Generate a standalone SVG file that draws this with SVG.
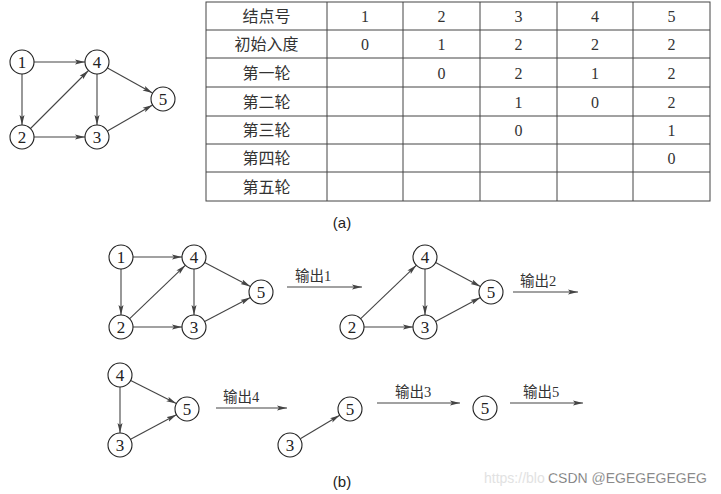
<svg xmlns="http://www.w3.org/2000/svg" width="721" height="494" viewBox="0 0 721 494">
<style>
.n circle{fill:#fff;stroke:#222;stroke-width:1.1}
.n text{font-family:"Liberation Serif",serif;font-size:17px;fill:#222;text-anchor:middle}
.e line{stroke:#444;stroke-width:1.1;marker-end:url(#ah)}
.lbl{font-family:"Liberation Serif","Noto Sans CJK SC",serif;font-size:14.5px;fill:#333}
.tl{stroke:#444;stroke-width:1;fill:none}
.tc{font-family:"Liberation Serif","Noto Sans CJK SC",serif;font-size:16px;fill:#333;text-anchor:middle}
.cap{font-family:"Liberation Sans",sans-serif;font-size:15px;fill:#222;text-anchor:middle}
</style>
<defs>
<marker id="ah" viewBox="0 0 10 6" refX="10" refY="3" markerWidth="10" markerHeight="6" markerUnits="userSpaceOnUse" orient="auto">
<path d="M0,0.5 L10,3 L0,5.5 L2,3 z" fill="#444"/>
</marker>
</defs>
<rect width="721" height="494" fill="#fff"/>

<!-- table -->
<g id="table">
<rect class="tl" x="206" y="2" width="504" height="199" stroke-width="1.4"/>
<g class="tl">
<line x1="327" y1="2" x2="327" y2="201"/>
<line x1="403" y1="2" x2="403" y2="201"/>
<line x1="480" y1="2" x2="480" y2="201"/>
<line x1="557" y1="2" x2="557" y2="201"/>
<line x1="633" y1="2" x2="633" y2="201"/>
<line x1="206" y1="30" x2="710" y2="30"/>
<line x1="206" y1="58" x2="710" y2="58"/>
<line x1="206" y1="87" x2="710" y2="87"/>
<line x1="206" y1="116" x2="710" y2="116"/>
<line x1="206" y1="144" x2="710" y2="144"/>
<line x1="206" y1="172" x2="710" y2="172"/>
</g>
<g class="tc">
<text x="266.5" y="22">结点号</text>
<text x="365" y="22">1</text><text x="441.5" y="22">2</text><text x="518.5" y="22">3</text><text x="595" y="22">4</text><text x="671.5" y="22">5</text>
<text x="266.5" y="50">初始入度</text>
<text x="365" y="50">0</text><text x="441.5" y="50">1</text><text x="518.5" y="50">2</text><text x="595" y="50">2</text><text x="671.5" y="50">2</text>
<text x="266.5" y="78.5">第一轮</text>
<text x="441.5" y="78.5">0</text><text x="518.5" y="78.5">2</text><text x="595" y="78.5">1</text><text x="671.5" y="78.5">2</text>
<text x="266.5" y="107.5">第二轮</text>
<text x="518.5" y="107.5">1</text><text x="595" y="107.5">0</text><text x="671.5" y="107.5">2</text>
<text x="266.5" y="136">第三轮</text>
<text x="518.5" y="136">0</text><text x="671.5" y="136">1</text>
<text x="266.5" y="164">第四轮</text>
<text x="671.5" y="164">0</text>
<text x="266.5" y="192.5">第五轮</text>
</g>
</g>

<text class="cap" x="342" y="228">(a)</text>
<text class="cap" x="342" y="487">(b)</text>

<!-- connectors -->
<g id="connectors" class="e">
<!-- graph a -->
<line x1="34" y1="62" x2="85" y2="62"/>
<line x1="22" y1="74" x2="22" y2="125"/>
<line x1="30.5" y1="128.5" x2="88.5" y2="70.5"/>
<line x1="34" y1="137" x2="85" y2="137"/>
<line x1="97" y1="74" x2="97" y2="125"/>
<line x1="107.5" y1="67.9" x2="152.5" y2="93.1"/>
<line x1="107.4" y1="131" x2="152.6" y2="105"/>
<!-- graph b1 -->
<line x1="133" y1="257" x2="182" y2="257"/>
<line x1="121" y1="269" x2="121" y2="315"/>
<line x1="129.7" y1="318.7" x2="185.3" y2="265.3"/>
<line x1="133" y1="327" x2="182" y2="327"/>
<line x1="194" y1="269" x2="194" y2="315"/>
<line x1="204.6" y1="262.6" x2="250.4" y2="286.4"/>
<line x1="204.6" y1="321.4" x2="250.4" y2="297.6"/>
<!-- graph b2 -->
<line x1="360.7" y1="318.7" x2="416.3" y2="265.3"/>
<line x1="364" y1="327" x2="413" y2="327"/>
<line x1="425" y1="269" x2="425" y2="315"/>
<line x1="435.6" y1="262.6" x2="480.4" y2="286.4"/>
<line x1="435.6" y1="321.4" x2="480.4" y2="297.6"/>
<!-- graph b3 -->
<line x1="120" y1="387" x2="120" y2="433"/>
<line x1="130.7" y1="380.4" x2="176.3" y2="403.6"/>
<line x1="130.6" y1="439.3" x2="176.4" y2="414.7"/>
<!-- graph b4 -->
<line x1="300.3" y1="438.8" x2="339.7" y2="415.2"/>
<!-- step arrows -->
<line x1="287" y1="287" x2="362" y2="287"/>
<line x1="513" y1="292" x2="578" y2="292"/>
<line x1="216" y1="408" x2="287" y2="408"/>
<line x1="377" y1="403" x2="460" y2="403"/>
<line x1="510" y1="403" x2="583" y2="403"/>
</g>

<g id="step-labels" class="lbl">
<text x="295" y="281">输出1</text>
<text x="520" y="286">输出2</text>
<text x="223" y="402">输出4</text>
<text x="395" y="397">输出3</text>
<text x="523" y="397">输出5</text>
</g>

<!-- nodes graph a -->
<g id="a1" class="n"><circle cx="22" cy="62" r="12"/><text x="22" y="68">1</text></g>
<g id="a4" class="n"><circle cx="97" cy="62" r="12"/><text x="97" y="68">4</text></g>
<g id="a5" class="n"><circle cx="163" cy="99" r="12"/><text x="163" y="105">5</text></g>
<g id="a2" class="n"><circle cx="22" cy="137" r="12"/><text x="22" y="143">2</text></g>
<g id="a3" class="n"><circle cx="97" cy="137" r="12"/><text x="97" y="143">3</text></g>
<!-- nodes b1 -->
<g id="b1n1" class="n"><circle cx="121" cy="257" r="12"/><text x="121" y="263">1</text></g>
<g id="b1n4" class="n"><circle cx="194" cy="257" r="12"/><text x="194" y="263">4</text></g>
<g id="b1n5" class="n"><circle cx="261" cy="292" r="12"/><text x="261" y="298">5</text></g>
<g id="b1n2" class="n"><circle cx="121" cy="327" r="12"/><text x="121" y="333">2</text></g>
<g id="b1n3" class="n"><circle cx="194" cy="327" r="12"/><text x="194" y="333">3</text></g>
<!-- nodes b2 -->
<g id="b2n4" class="n"><circle cx="425" cy="257" r="12"/><text x="425" y="263">4</text></g>
<g id="b2n5" class="n"><circle cx="491" cy="292" r="12"/><text x="491" y="298">5</text></g>
<g id="b2n2" class="n"><circle cx="352" cy="327" r="12"/><text x="352" y="333">2</text></g>
<g id="b2n3" class="n"><circle cx="425" cy="327" r="12"/><text x="425" y="333">3</text></g>
<!-- nodes b3 -->
<g id="b3n4" class="n"><circle cx="120" cy="375" r="12"/><text x="120" y="381">4</text></g>
<g id="b3n5" class="n"><circle cx="187" cy="409" r="12"/><text x="187" y="415">5</text></g>
<g id="b3n3" class="n"><circle cx="120" cy="445" r="12"/><text x="120" y="451">3</text></g>
<!-- nodes b4 -->
<g id="b4n5" class="n"><circle cx="350" cy="409" r="12"/><text x="350" y="415">5</text></g>
<g id="b4n3" class="n"><circle cx="290" cy="445" r="12"/><text x="290" y="451">3</text></g>
<!-- node b5 -->
<g id="b5n5" class="n"><circle cx="485" cy="408" r="12"/><text x="485" y="414">5</text></g>

<!-- watermark -->
<text x="484" y="483" font-family="Liberation Sans,sans-serif" font-size="14" fill="#e2e2e2">https://blo</text>
<text x="548" y="483" font-family="Liberation Sans,sans-serif" font-size="14" fill="#555" stroke="#fff" stroke-width="0.3">CSDN @EGEGEGEGEG</text>
</svg>
